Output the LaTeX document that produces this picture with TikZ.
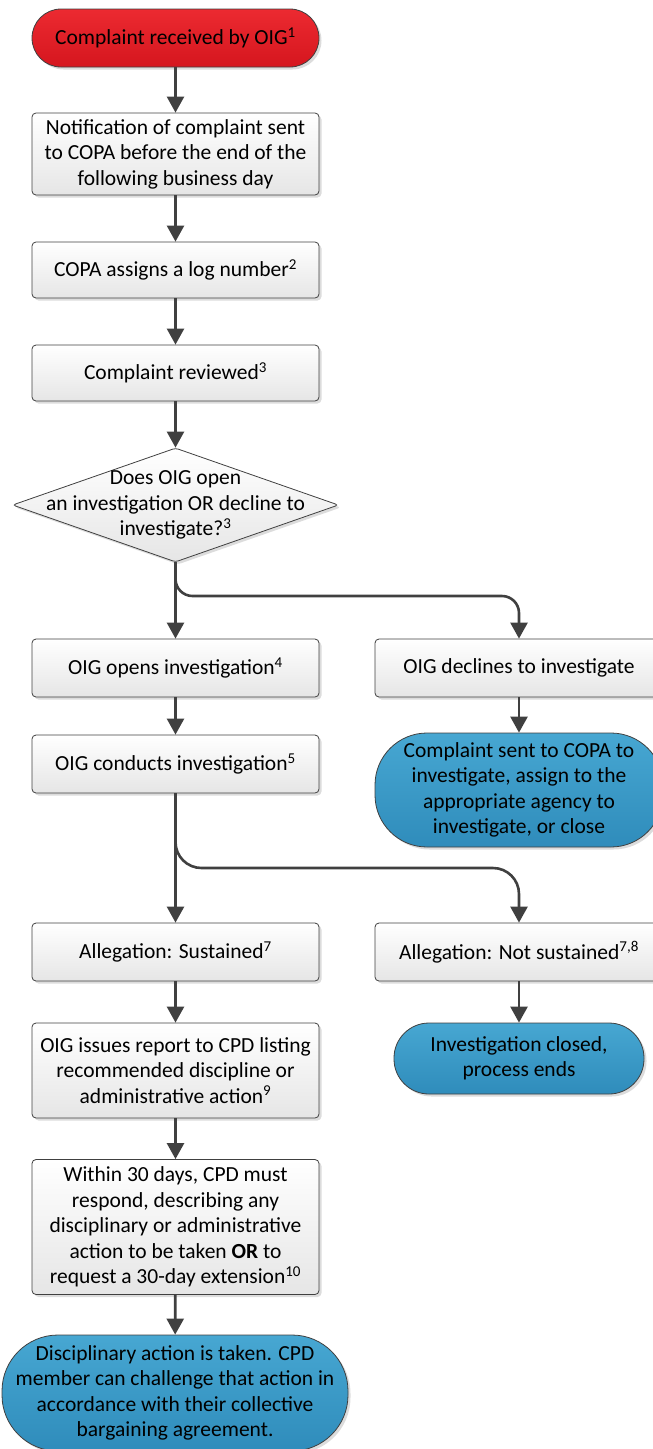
\documentclass[tikz,border=0pt]{standalone}
\usepackage{fontspec}
\setmainfont{Carlito}
\usetikzlibrary{arrows.meta,shapes.geometric,shadows}
\definecolor{edge}{HTML}{404040}
\definecolor{redtop}{HTML}{EC2A31}
\definecolor{redbot}{HTML}{D5161E}
\definecolor{bluetop}{HTML}{47A7D2}
\definecolor{bluebot}{HTML}{2F8CBB}
\begin{document}
\begin{tikzpicture}[x=1pt,y=-1pt,
  font=\fontsize{21.5}{25.5}\selectfont,
  shad/.style={drop shadow={shadow xshift=2.5pt,shadow yshift=-2.5pt,fill=black!30,opacity=0.45}},
  box/.style={draw=edge, line width=0.8pt, rounded corners=4pt, top color=white, bottom color=black!10,
    minimum width=287pt, inner sep=0pt, align=center, shad},
  redterm/.style={draw=edge, line width=0.8pt, top color=redtop, bottom color=redbot,
    minimum width=287pt, inner sep=0pt, align=center, shad},
  blueterm/.style={draw=edge, line width=0.8pt, top color=bluetop, bottom color=bluebot,
    inner sep=0pt, align=center, shad},
  decision/.style={draw=edge, line width=0.8pt, diamond, rounded corners=3pt, top color=white, bottom color=black!10,
    minimum width=326pt, minimum height=114pt, inner sep=0pt, shad},
  arr/.style={draw=edge, line width=2.6pt, -{Triangle[width=17pt,length=16pt]}},
]
\useasboundingbox (0,0) rectangle (653,1449);

\node[redterm, rounded corners=29pt, minimum height=58pt] (start) at (175.5,38) {Complaint received by OIG\textsuperscript{1}};
\node[box, minimum height=82pt] (notif) at (175.5,154) {Notification of complaint sent\\to COPA before the end of the\\following business day};
\node[box, minimum height=56pt] (log) at (175.5,270) {COPA assigns a log number\textsuperscript{2}};
\node[box, minimum height=56pt] (rev) at (175.5,373) {Complaint reviewed\textsuperscript{3}};
\node[decision] (dia) at (175.5,505) {};
\node[align=center, inner sep=0pt] (diatext) at (175.5,505) {Does OIG open\\an investigation OR decline to\\investigate?\textsuperscript{3}};

\node[box, minimum height=58pt] (open) at (175.5,668) {OIG opens investigation\textsuperscript{4}};
\node[box, minimum height=58pt, minimum width=288pt] (decl) at (519,668) {OIG declines to investigate};
\node[box, minimum height=58pt] (cond) at (175.5,764) {OIG conducts investigation\textsuperscript{5}};
\node[blueterm, rounded corners=52pt, minimum width=288pt, minimum height=114pt] (copa) at (519,790) {Complaint sent to COPA to\\investigate, assign to the\\appropriate agency to\\investigate, or close};

\node[box, minimum height=58pt] (sust) at (175.5,952) {Allegation: Sustained\textsuperscript{7}};
\node[box, minimum height=58pt, minimum width=288pt] (nsust) at (519,952) {Allegation: Not sustained\textsuperscript{7,8}};
\node[blueterm, rounded corners=35pt, minimum width=250pt, minimum height=71pt] (closed) at (519,1058.5) {Investigation closed,\\process ends};
\node[box, minimum height=95pt] (report) at (175.5,1070.5) {OIG issues report to CPD listing\\recommended discipline or\\administrative action\textsuperscript{9}};
\node[box, minimum height=135pt] (within) at (175.5,1227) {Within 30 days, CPD must\\respond, describing any\\disciplinary or administrative\\action to be taken \textbf{OR} to\\request a 30-day extension\textsuperscript{10}};
\node[blueterm, rounded corners=56pt, minimum width=346pt, minimum height=116pt] (final) at (175,1393) {Disciplinary action is taken. CPD\\member can challenge that action in\\accordance with their collective\\bargaining agreement.};

\coordinate (br1) at (350,596);
\coordinate (br2) at (350,868);

\draw[arr] (start) -- (notif);
\draw[arr] (notif) -- (log);
\draw[arr] (log) -- (rev);
\draw[arr] (rev) -- (dia);
\draw[arr] (dia.south) -- (open);
\draw[arr, rounded corners=17pt] (dia.south) |- (br1) -| (decl.north);
\draw[arr] (open) -- (cond);
\draw[arr] (decl) -- (copa);
\draw[arr] (cond.south) -- (sust);
\draw[arr, rounded corners=26pt] (cond.south) |- (br2) -| (nsust.north);
\draw[arr] (nsust) -- (closed);
\draw[arr] (sust) -- (report);
\draw[arr] (report) -- (within);
\draw[arr] (within) -- (final);
\end{tikzpicture}
\end{document}
